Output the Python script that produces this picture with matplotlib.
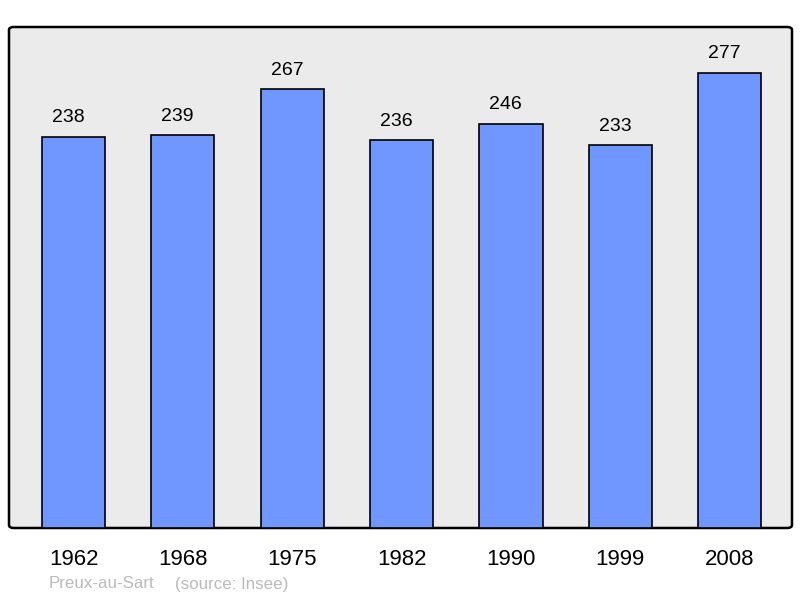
import matplotlib
matplotlib.use("Agg")
import matplotlib.pyplot as plt
from matplotlib.patches import FancyBboxPatch

years = ["1962", "1968", "1975", "1982", "1990", "1999", "2008"]
population = [238, 239, 267, 236, 246, 233, 277]
place = "Preux-au-Sart"
source = "(source: Insee)"

plt.rcParams['font.family'] = ['Liberation Sans', 'DejaVu Sans']

fig = plt.figure(figsize=(8, 5.98), dpi=100)
ax = fig.add_axes([9/800, 70/598, 783/800, 501/598])
ax.set_facecolor('none')
bg = FancyBboxPatch((0, 0), 1, 1, boxstyle="round,pad=0,rounding_size=0.006",
                    transform=ax.transAxes, facecolor='#ebebeb', edgecolor='black',
                    linewidth=1.8, zorder=0, clip_on=False)
ax.add_patch(bg)
for s in ax.spines.values():
    s.set_visible(False)

x = range(len(years))
ax.bar(x, population, width=0.578, color='#7097ff', edgecolor='black', linewidth=1.2, zorder=2)
for xi, v in zip(x, population):
    ax.text(xi - 0.047, v + 6.5, str(v), ha='center', va='bottom', fontsize=14, zorder=3)

ax.set_xlim(-0.59, 6.57)
ax.set_ylim(0, 305)
ax.set_yticks([])
ax.set_xticks(list(x))
ax.set_xticklabels(years, fontsize=16)
ax.tick_params(axis='x', length=0, pad=15)

fig.text(49/800, 1 - 584/598, place, fontsize=12.2, color='#bbbbbb', ha='left', va='center')
fig.text(175/800, 1 - 584/598, source, fontsize=12.2, color='#bbbbbb', ha='left', va='center')

fig.savefig('out.png', dpi=100)
